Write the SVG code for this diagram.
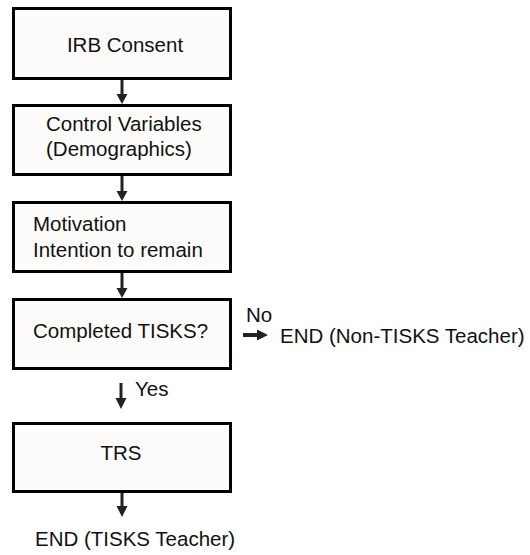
<svg xmlns="http://www.w3.org/2000/svg" width="530" height="555" viewBox="0 0 530 555">
<style>
  .box { fill: #fdfcfa; stroke: #000; stroke-width: 3; }
  .t { font-family: "Liberation Sans", Arial, sans-serif; font-size: 20.5px; fill: #111; }
  .c { text-anchor: middle; }
  .ln { stroke: #222; stroke-width: 3; fill: none; }
  .hd { fill: #222; }
</style>
<rect width="530" height="555" fill="#ffffff"/>
<g id="n1"><rect class="box" x="13.5" y="8.5" width="217" height="70"/><text class="t c" x="125" y="52">IRB Consent</text></g>
<g id="n2"><rect class="box" x="13.5" y="105.5" width="217" height="69"/><text class="t" x="46" y="131">Control Variables</text><text class="t" x="46" y="156">(Demographics)</text></g>
<g id="n3"><rect class="box" x="13.5" y="202.5" width="217" height="69"/><text class="t" x="33" y="231">Motivation</text><text class="t" x="33" y="257">Intention to remain</text></g>
<g id="n4"><rect class="box" x="13.5" y="299.5" width="217" height="69"/><text class="t" x="33" y="338">Completed TISKS?</text></g>
<g id="n5"><rect class="box" x="13.5" y="423.5" width="217" height="68"/><text class="t c" x="121" y="460">TRS</text></g>
<g id="end1"><text class="t" x="280" y="343">END (Non-TISKS Teacher)</text></g>
<g id="end2"><text class="t" x="35" y="546">END (TISKS Teacher)</text></g>
<g id="connectors">
  <line class="ln" x1="122" y1="80" x2="122" y2="95"/><polygon class="hd" points="116.5,94 127.5,94 122,104"/>
  <line class="ln" x1="122" y1="176" x2="122" y2="192"/><polygon class="hd" points="116.5,191 127.5,191 122,201"/>
  <line class="ln" x1="122" y1="273" x2="122" y2="289"/><polygon class="hd" points="116.5,288 127.5,288 122,298"/>
  <line class="ln" x1="121" y1="383" x2="121" y2="399"/><polygon class="hd" points="115.5,398 126.5,398 121,409"/>
  <line class="ln" x1="122" y1="493" x2="122" y2="507"/><polygon class="hd" points="116.5,506 127.5,506 122,517"/>
  <line x1="243" y1="335" x2="258" y2="335" stroke="#222" stroke-width="4"/><polygon class="hd" points="257,329.5 257,340.5 268,335"/>
  <text class="t" x="246" y="322">No</text>
  <text class="t" x="135" y="396">Yes</text>
</g>
</svg>
